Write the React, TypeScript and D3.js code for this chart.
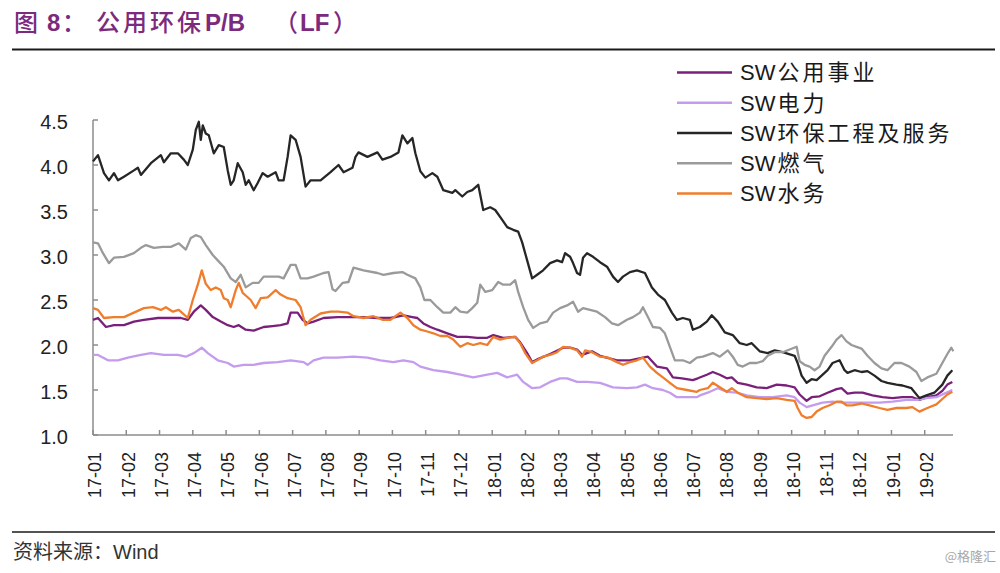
import React from "react";
import * as d3 from "d3";

// x values: months elapsed since 2017-01-01, y values: P/B (LF)
const monthLabels = [
  "17-01","17-02","17-03","17-04","17-05","17-06","17-07","17-08","17-09","17-10","17-11","17-12",
  "18-01","18-02","18-03","18-04","18-05","18-06","18-07","18-08","18-09","18-10","18-11","18-12",
  "19-01","19-02",
];
const yTicks = [1.0, 1.5, 2.0, 2.5, 3.0, 3.5, 4.0, 4.5];

const utilitiesPB: [number, number][] = [
  [0,2.28],[0.15,2.3],[0.39,2.2],[0.63,2.22],[0.93,2.22],[1.23,2.26],[1.53,2.28],[1.95,2.3],[2.34,2.3],[2.64,2.3],
  [2.85,2.28],[3.03,2.37],[3.24,2.44],[3.39,2.39],[3.6,2.31],[3.84,2.26],[4.05,2.22],[4.23,2.2],[4.38,2.22],[4.59,2.17],
  [4.83,2.16],[5.13,2.2],[5.4,2.21],[5.64,2.22],[5.85,2.24],[5.94,2.36],[6.15,2.36],[6.3,2.28],[6.45,2.24],[6.63,2.26],
  [6.93,2.3],[7.35,2.31],[7.74,2.31],[8.13,2.31],[8.55,2.3],[8.94,2.3],[9.33,2.33],[9.6,2.31],[9.75,2.3],[9.93,2.24],
  [10.14,2.2],[10.35,2.17],[10.65,2.13],[10.95,2.09],[11.25,2.09],[11.55,2.08],[11.85,2.08],[12.03,2.11],[12.33,2.08],[12.69,2.09],
  [12.84,2.03],[13.05,1.91],[13.2,1.81],[13.35,1.84],[13.74,1.9],[14.13,1.97],[14.34,1.97],[14.55,1.95],[14.7,1.89],[15.0,1.93],
  [15.24,1.88],[15.75,1.83],[16.14,1.83],[16.53,1.86],[16.68,1.87],[16.95,1.76],[17.25,1.74],[17.43,1.64],[17.7,1.63],[18.03,1.61],
  [18.18,1.63],[18.45,1.67],[18.63,1.7],[18.84,1.67],[19.05,1.63],[19.2,1.64],[19.38,1.58],[19.65,1.56],[19.95,1.53],[20.25,1.52],
  [20.55,1.56],[20.85,1.55],[21.09,1.53],[21.24,1.45],[21.45,1.38],[21.6,1.42],[21.84,1.43],[22.08,1.47],[22.35,1.51],[22.5,1.52],
  [22.68,1.46],[22.89,1.47],[23.13,1.47],[23.43,1.44],[23.73,1.42],[24.03,1.41],[24.33,1.42],[24.63,1.42],[24.84,1.39],[25.08,1.42],
  [25.35,1.44],[25.53,1.49],[25.68,1.56],[25.83,1.59],
];

const powerPB: [number, number][] = [
  [0,1.89],[0.15,1.89],[0.45,1.83],[0.75,1.83],[1.05,1.86],[1.44,1.89],[1.74,1.91],[2.13,1.89],[2.55,1.89],[2.79,1.87],
  [3.03,1.91],[3.27,1.97],[3.45,1.91],[3.75,1.83],[4.05,1.8],[4.23,1.76],[4.53,1.78],[4.83,1.78],[5.13,1.8],[5.55,1.81],
  [5.94,1.83],[6.33,1.81],[6.45,1.78],[6.63,1.83],[6.93,1.86],[7.35,1.86],[7.83,1.87],[8.25,1.86],[8.64,1.83],[9.03,1.81],
  [9.33,1.83],[9.63,1.81],[9.84,1.76],[10.23,1.72],[10.65,1.7],[11.04,1.67],[11.43,1.64],[11.85,1.67],[12.15,1.69],[12.45,1.64],
  [12.75,1.67],[12.93,1.59],[13.2,1.52],[13.44,1.53],[13.74,1.59],[14.04,1.63],[14.25,1.63],[14.55,1.59],[14.85,1.59],[15.24,1.58],
  [15.63,1.53],[16.05,1.52],[16.35,1.53],[16.59,1.56],[16.83,1.52],[17.13,1.5],[17.34,1.47],[17.55,1.42],[17.85,1.42],[18.15,1.42],
  [18.24,1.44],[18.54,1.48],[18.78,1.52],[19.05,1.48],[19.35,1.47],[19.65,1.44],[20.04,1.42],[20.43,1.42],[20.85,1.44],[21.09,1.42],
  [21.24,1.36],[21.45,1.31],[21.63,1.33],[21.93,1.36],[22.23,1.37],[22.53,1.36],[22.83,1.36],[23.25,1.36],[23.64,1.36],[24.03,1.37],
  [24.45,1.39],[24.78,1.39],[25.05,1.41],[25.35,1.42],[25.59,1.46],[25.83,1.5],
];

const envPB: [number, number][] = [
  [0,4.04],[0.15,4.11],[0.33,3.91],[0.48,3.83],[0.63,3.91],[0.75,3.83],[0.93,3.87],[1.23,3.94],[1.35,3.97],[1.44,3.89],
  [1.74,4.02],[2.04,4.11],[2.13,4.03],[2.34,4.13],[2.55,4.13],[2.73,4.06],[2.85,4.0],[3.0,4.17],[3.09,4.39],[3.18,4.48],
  [3.24,4.28],[3.3,4.44],[3.39,4.35],[3.48,4.33],[3.63,4.13],[3.78,4.22],[3.93,4.2],[4.05,3.94],[4.14,3.78],[4.23,3.83],
  [4.35,4.02],[4.5,3.92],[4.59,3.78],[4.68,3.83],[4.83,3.72],[4.95,3.8],[5.1,3.91],[5.25,3.87],[5.49,3.92],[5.58,3.83],
  [5.73,3.83],[5.85,4.09],[5.94,4.33],[6.09,4.28],[6.24,4.09],[6.39,3.76],[6.54,3.83],[6.84,3.83],[7.14,3.92],[7.38,4.0],
  [7.53,3.92],[7.8,3.97],[7.89,4.09],[7.98,4.14],[8.25,4.09],[8.55,4.14],[8.7,4.06],[8.94,4.09],[9.18,4.14],[9.3,4.33],
  [9.45,4.24],[9.6,4.3],[9.69,4.13],[9.84,3.93],[9.99,3.86],[10.2,3.91],[10.35,3.87],[10.53,3.72],[10.8,3.69],[10.89,3.72],
  [11.1,3.65],[11.25,3.7],[11.4,3.72],[11.58,3.78],[11.73,3.5],[11.94,3.53],[12.09,3.5],[12.3,3.39],[12.45,3.31],[12.63,3.28],
  [12.78,3.26],[12.9,3.14],[13.05,2.94],[13.2,2.74],[13.35,2.78],[13.53,2.83],[13.74,2.91],[13.95,2.94],[14.1,2.92],[14.19,3.02],
  [14.34,2.98],[14.43,2.91],[14.55,2.8],[14.64,2.78],[14.73,2.97],[14.85,3.02],[15.03,2.98],[15.24,2.92],[15.45,2.87],[15.63,2.76],
  [15.78,2.7],[15.93,2.76],[16.14,2.81],[16.35,2.83],[16.59,2.8],[16.8,2.64],[16.98,2.56],[17.19,2.5],[17.4,2.36],[17.55,2.28],
  [17.73,2.3],[17.94,2.28],[18.03,2.17],[18.24,2.2],[18.45,2.26],[18.6,2.33],[18.78,2.26],[18.99,2.14],[19.23,2.11],[19.44,2.02],
  [19.65,2.0],[19.8,2.02],[20.04,1.93],[20.28,1.91],[20.49,1.94],[20.73,1.92],[21.09,1.88],[21.18,1.8],[21.3,1.66],[21.45,1.58],
  [21.6,1.62],[21.75,1.61],[21.9,1.66],[22.08,1.72],[22.23,1.8],[22.44,1.83],[22.59,1.72],[22.68,1.69],[22.89,1.72],[23.1,1.7],
  [23.28,1.71],[23.49,1.66],[23.7,1.6],[23.88,1.58],[24.15,1.56],[24.33,1.55],[24.6,1.52],[24.84,1.41],[25.05,1.44],[25.29,1.47],
  [25.53,1.56],[25.68,1.66],[25.83,1.72],
];

const gasPB: [number, number][] = [
  [0,3.14],[0.15,3.13],[0.3,3.02],[0.48,2.91],[0.63,2.97],[0.93,2.98],[1.23,3.02],[1.44,3.08],[1.59,3.11],[1.83,3.08],
  [2.1,3.09],[2.34,3.09],[2.58,3.13],[2.79,3.06],[2.94,3.19],[3.09,3.22],[3.24,3.2],[3.39,3.11],[3.6,3.0],[3.75,2.94],
  [3.93,2.87],[4.14,2.74],[4.29,2.7],[4.44,2.78],[4.59,2.64],[4.8,2.69],[4.98,2.69],[5.13,2.76],[5.4,2.76],[5.58,2.76],
  [5.73,2.74],[5.94,2.89],[6.09,2.89],[6.24,2.74],[6.45,2.74],[6.63,2.76],[6.93,2.8],[7.08,2.81],[7.2,2.62],[7.29,2.6],
  [7.5,2.69],[7.68,2.7],[7.83,2.86],[8.13,2.83],[8.55,2.8],[8.73,2.78],[9.03,2.8],[9.3,2.81],[9.45,2.78],[9.69,2.74],
  [9.84,2.64],[9.96,2.5],[10.14,2.5],[10.35,2.42],[10.53,2.36],[10.74,2.36],[10.89,2.42],[11.04,2.37],[11.25,2.36],[11.4,2.41],
  [11.55,2.47],[11.64,2.67],[11.79,2.59],[12.0,2.61],[12.18,2.7],[12.33,2.67],[12.54,2.67],[12.69,2.72],[12.78,2.59],[12.93,2.42],
  [13.08,2.28],[13.23,2.19],[13.44,2.24],[13.65,2.26],[13.83,2.36],[14.04,2.41],[14.25,2.44],[14.43,2.48],[14.58,2.37],[14.73,2.41],
  [14.94,2.39],[15.15,2.37],[15.39,2.31],[15.6,2.24],[15.78,2.22],[16.05,2.28],[16.23,2.31],[16.44,2.36],[16.53,2.42],[16.68,2.31],
  [16.83,2.2],[17.04,2.19],[17.19,2.13],[17.34,1.98],[17.49,1.83],[17.73,1.83],[17.94,1.8],[18.15,1.86],[18.33,1.87],[18.63,1.91],
  [18.84,1.87],[19.08,1.94],[19.23,1.87],[19.38,1.78],[19.53,1.76],[19.74,1.8],[19.95,1.8],[20.13,1.82],[20.28,1.88],[20.49,1.92],
  [20.73,1.92],[20.94,1.95],[21.15,1.98],[21.24,1.82],[21.39,1.78],[21.54,1.76],[21.69,1.72],[21.84,1.76],[21.99,1.88],[22.2,1.98],
  [22.35,2.06],[22.5,2.11],[22.65,2.04],[22.8,2.0],[22.95,1.98],[23.1,1.96],[23.28,1.88],[23.49,1.8],[23.7,1.74],[23.88,1.72],
  [24.09,1.8],[24.3,1.8],[24.54,1.76],[24.75,1.7],[24.9,1.6],[25.08,1.64],[25.35,1.68],[25.53,1.8],[25.68,1.9],[25.8,1.97],
  [25.86,1.93],
];

const waterPB: [number, number][] = [
  [0,2.41],[0.15,2.39],[0.33,2.3],[0.63,2.31],[0.93,2.31],[1.23,2.36],[1.53,2.41],[1.8,2.42],[2.04,2.39],[2.19,2.42],
  [2.4,2.37],[2.58,2.39],[2.85,2.3],[3.0,2.5],[3.15,2.67],[3.27,2.83],[3.39,2.68],[3.54,2.61],[3.69,2.64],[3.84,2.61],
  [3.93,2.52],[4.05,2.5],[4.14,2.42],[4.29,2.61],[4.38,2.69],[4.5,2.58],[4.59,2.55],[4.74,2.5],[4.89,2.41],[5.04,2.52],
  [5.25,2.53],[5.49,2.61],[5.64,2.56],[5.85,2.52],[6.09,2.5],[6.24,2.42],[6.39,2.22],[6.54,2.28],[6.84,2.35],[7.14,2.37],
  [7.38,2.37],[7.65,2.36],[7.83,2.32],[8.13,2.3],[8.43,2.32],[8.7,2.28],[8.94,2.28],[9.24,2.36],[9.45,2.3],[9.63,2.22],
  [9.84,2.17],[10.05,2.15],[10.23,2.13],[10.44,2.1],[10.65,2.1],[10.83,2.06],[11.04,1.98],[11.25,2.02],[11.43,2.0],[11.64,2.02],
  [11.85,2.0],[12.03,2.09],[12.24,2.06],[12.45,2.08],[12.69,2.09],[12.84,2.02],[12.99,1.91],[13.2,1.8],[13.35,1.83],[13.53,1.87],
  [13.74,1.89],[13.95,1.92],[14.13,1.98],[14.34,1.97],[14.55,1.94],[14.7,1.87],[14.79,1.94],[15.0,1.92],[15.24,1.87],[15.48,1.86],
  [15.75,1.81],[15.93,1.78],[16.14,1.81],[16.35,1.83],[16.53,1.86],[16.74,1.76],[16.95,1.69],[17.13,1.64],[17.34,1.58],[17.55,1.52],
  [17.85,1.5],[18.15,1.48],[18.24,1.5],[18.48,1.52],[18.63,1.58],[18.84,1.53],[19.05,1.48],[19.2,1.52],[19.38,1.47],[19.65,1.42],
  [19.95,1.41],[20.25,1.4],[20.55,1.41],[20.85,1.39],[21.09,1.38],[21.18,1.3],[21.3,1.22],[21.45,1.19],[21.6,1.2],[21.75,1.26],
  [21.93,1.3],[22.14,1.33],[22.35,1.37],[22.5,1.37],[22.65,1.33],[22.83,1.33],[23.1,1.35],[23.34,1.33],[23.64,1.3],[23.88,1.28],
  [24.15,1.3],[24.45,1.3],[24.63,1.31],[24.84,1.26],[25.08,1.3],[25.35,1.34],[25.53,1.4],[25.68,1.45],[25.83,1.48],
];

const seriesNames = ["SW公用事业", "SW电力", "SW环保工程及服务", "SW燃气", "SW水务"];
const seriesData = [utilitiesPB, powerPB, envPB, gasPB, waterPB];
const seriesColors = ["#7a1f7a", "#c39ced", "#262626", "#9a9a9a", "#ef7d2b"];

const W = 1000;
const H = 573;
const titleColor = "#7b2a7d";
const axisColor = "#8c8c8c";
const latin = "'Liberation Sans', Arial, 'Noto Sans CJK SC', sans-serif";
const cjk = "'Noto Sans CJK SC', 'Liberation Sans', sans-serif";

export default function App() {
  const x = d3.scaleLinear().domain([0, 25.85]).range([93, 953]);
  const y = d3.scaleLinear().domain([1, 4.5]).range([435, 120]);
  const line = d3
    .line<[number, number]>()
    .x((d) => x(d[0]))
    .y((d) => y(d[1]));
  const legendY = d3.scalePoint<number>().domain([0, 1, 2, 3, 4]).range([72.5, 193.5]);
  const [x0, x1] = x.range();
  const [yb, yt] = y.range();

  return (
    <svg
      width={W}
      height={H}
      viewBox={`0 0 ${W} ${H}`}
      style={{ position: "absolute", left: 0, top: 0, background: "#fff" }}
    >
      <rect width={W} height={H} fill="#fff" />
      {/* title */}
      <text y={31} fill={titleColor} fontSize={24} fontFamily={cjk} fontWeight={500}>
        <tspan x={14}>图</tspan>
        <tspan x={47} fontFamily={latin} fontWeight="bold">8</tspan>
        <tspan x={62}>：</tspan>
        <tspan x={96} letterSpacing={3}>公用环保</tspan>
        <tspan x={205} fontFamily={latin} fontWeight="bold">P/B</tspan>
        <tspan x={274}>（</tspan>
        <tspan x={300} fontFamily={latin} fontWeight="bold">LF</tspan>
        <tspan x={333}>）</tspan>
      </text>
      <line x1={12} x2={995} y1={49.5} y2={49.5} stroke="#1a1a1a" strokeWidth={2} />

      {/* y axis */}
      <line x1={x0} x2={x0} y1={yt} y2={yb} stroke={axisColor} strokeWidth={1.5} />
      {yTicks.map((v) => (
        <g key={v}>
          <line x1={x0} x2={x0 + 5} y1={y(v)} y2={y(v)} stroke={axisColor} strokeWidth={1.5} />
          <text
            x={68}
            y={y(v) + 2}
            dy="0.35em"
            textAnchor="end"
            fontSize={20}
            fontFamily={latin}
            fill="#222"
          >
            {v.toFixed(1)}
          </text>
        </g>
      ))}

      {/* x axis */}
      <line x1={x0} x2={x1} y1={yb} y2={yb} stroke={axisColor} strokeWidth={1.5} />
      {monthLabels.map((lab, i) => (
        <g key={lab}>
          <line x1={x(i)} x2={x(i)} y1={yb} y2={yb - 5} stroke={axisColor} strokeWidth={1.5} />
          <text
            transform={`translate(${x(i) + 2},452) rotate(-90)`}
            dy="0.35em"
            textAnchor="end"
            fontSize={18}
            fontFamily={latin}
            fill="#222"
          >
            {lab}
          </text>
        </g>
      ))}

      {/* series */}
      {seriesData.map((d, i) => (
        <path
          key={seriesNames[i]}
          d={line(d) || ""}
          fill="none"
          stroke={seriesColors[i]}
          strokeWidth={2.3}
          strokeLinejoin="round"
        />
      ))}

      {/* legend */}
      {seriesNames.map((name, i) => (
        <g key={name} transform={`translate(0,${legendY(i)})`}>
          <line x1={677} x2={732} y1={0} y2={0} stroke={seriesColors[i]} strokeWidth={2.5} />
          <text x={740} dy="0.36em" fontSize={22} fill="#1a1a1a" fontFamily={latin}>
            <tspan>{name.slice(0, 2)}</tspan>
            <tspan fontFamily={cjk} letterSpacing={3} dx={2}>{name.slice(2)}</tspan>
          </text>
        </g>
      ))}

      {/* footer */}
      <line x1={12} x2={995} y1={532} y2={532} stroke="#1a1a1a" strokeWidth={1.5} />
      <text x={13} y={559} fontSize={20} fill="#333" fontFamily={cjk}>
        资料来源：<tspan fontFamily={latin}>Wind</tspan>
      </text>
      <text x={996} y={561} textAnchor="end" fontSize={13} fill="#a8a8a8" fontFamily={cjk}>
        @格隆汇
      </text>
    </svg>
  );
}
